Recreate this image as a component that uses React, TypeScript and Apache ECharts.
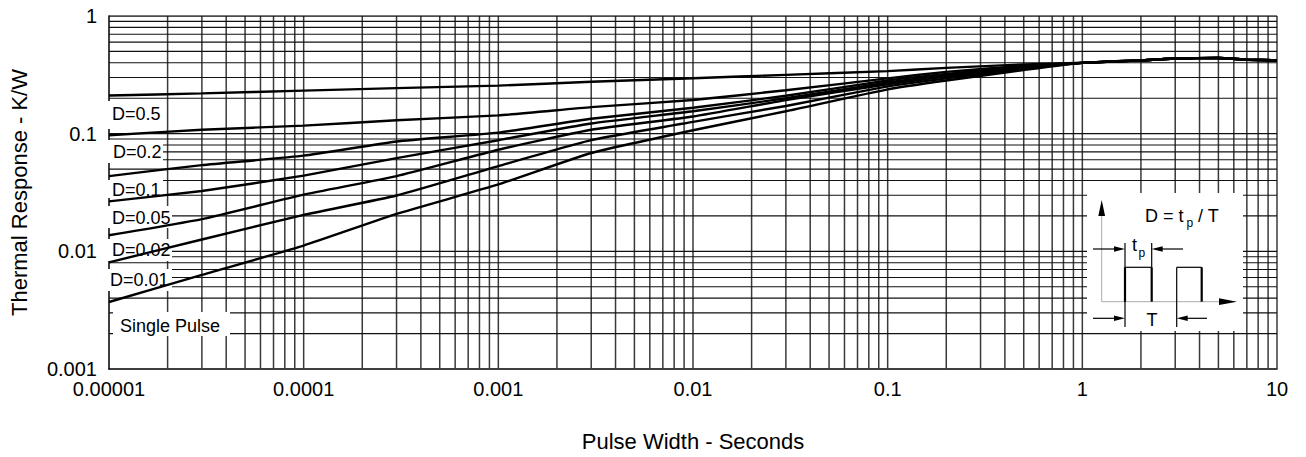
import React, { useEffect, useRef } from "react";
import * as echarts from "echarts";

const pulseWidth = [1e-5, 3e-5, 1e-4, 3e-4, 1e-3, 3e-3, 1e-2, 3e-2, 0.1, 0.2, 0.5, 1, 2, 3, 5, 7, 10];
const d05 = [0.211, 0.22, 0.232, 0.244, 0.256, 0.276, 0.296, 0.316, 0.34, 0.362, 0.388, 0.4, 0.42, 0.435, 0.44, 0.425, 0.42];
const d02 = [0.097, 0.108, 0.117, 0.13, 0.143, 0.168, 0.193, 0.234, 0.295, 0.335, 0.378, 0.4, 0.42, 0.435, 0.44, 0.425, 0.42];
const d01 = [0.0436, 0.054, 0.065, 0.0857, 0.102, 0.134, 0.166, 0.21, 0.283, 0.322, 0.372, 0.4, 0.42, 0.435, 0.44, 0.425, 0.42];
const d005 = [0.0266, 0.0326, 0.044, 0.062, 0.088, 0.122, 0.155, 0.2, 0.272, 0.312, 0.367, 0.4, 0.42, 0.435, 0.44, 0.425, 0.42];
const d002 = [0.0137, 0.0188, 0.0303, 0.0436, 0.073, 0.108, 0.14, 0.193, 0.263, 0.305, 0.362, 0.4, 0.42, 0.435, 0.44, 0.425, 0.42];
const d001 = [0.00807, 0.0126, 0.0204, 0.0298, 0.053, 0.088, 0.126, 0.172, 0.252, 0.295, 0.355, 0.4, 0.42, 0.435, 0.44, 0.425, 0.42];
const single = [0.00371, 0.0063, 0.0112, 0.0208, 0.037, 0.0685, 0.107, 0.155, 0.238, 0.283, 0.347, 0.4, 0.42, 0.435, 0.44, 0.425, 0.42];

const curves = [d05, d02, d01, d005, d002, d001, single];

const xTickLabels = ["0.00001", "0.0001", "0.001", "0.01", "0.1", "1", "10"];
const yTickLabels = ["0.001", "0.01", "0.1", "1"];
const xDecades = [-5, -4, -3, -2, -1, 0];
const yDecades = [-3, -2, -1];
const multipliers = [1, 2, 3, 4, 5, 6, 7, 8, 9];
const X_MIN = 1e-5;
const X_MAX = 10;
const Y_MIN = 0.001;
const Y_MAX = 1;

const curveLabels = [
  { text: "D=0.5", x: 106, y: 101, w: 57, h: 28, tx: 112, ty: 114 },
  { text: "D=0.2", x: 106, y: 140, w: 57, h: 23, tx: 113, ty: 152 },
  { text: "D=0.1", x: 106, y: 180, w: 57, h: 18, tx: 112, ty: 190 },
  { text: "D=0.05", x: 106, y: 206, w: 66, h: 22, tx: 112, ty: 217.5 },
  { text: "D=0.02", x: 106, y: 239, w: 66, h: 22, tx: 112, ty: 250 },
  { text: "D=0.01", x: 106, y: 269, w: 66, h: 22, tx: 110, ty: 280 },
  { text: "Single Pulse", x: 113, y: 312, w: 117, h: 24, tx: 120, ty: 325.5 },
];

const FONT = "'Liberation Sans', Arial, sans-serif";

function isDecade(v: number) {
  const l = Math.log10(v);
  return Math.abs(l - Math.round(l)) < 1e-6;
}

export default function App() {
  const ref = useRef<HTMLDivElement>(null);
  useEffect(() => {
    if (!ref.current) return;
    const chart = echarts.init(ref.current, null, { renderer: "svg" });

    const gridSeries: any[] = [];
    xDecades.forEach((e) =>
      multipliers.forEach((m) => {
        if (e === -5 && m === 1) return;
        const v = m * Math.pow(10, e);
        gridSeries.push({
          type: "line",
          z: 1,
          silent: true,
          symbol: "none",
          lineStyle: { color: "#3a3a3a", width: 1.5 },
          data: [[v, Y_MIN], [v, Y_MAX]],
        });
      })
    );
    gridSeries.push({
      type: "line", z: 1, silent: true, symbol: "none",
      lineStyle: { color: "#3a3a3a", width: 1.5 },
      data: [[X_MAX, Y_MIN], [X_MAX, Y_MAX]],
    });
    yDecades.forEach((e) =>
      multipliers.forEach((m) => {
        if (e === -3 && m === 1) return;
        const v = m * Math.pow(10, e);
        gridSeries.push({
          type: "line",
          z: 1,
          silent: true,
          symbol: "none",
          lineStyle: { color: "#111", width: 1.1 },
          data: [[X_MIN, v], [X_MAX, v]],
        });
      })
    );
    gridSeries.push({
      type: "line", z: 1, silent: true, symbol: "none",
      lineStyle: { color: "#111", width: 1.3 },
      data: [[X_MIN, Y_MAX], [X_MAX, Y_MAX]],
    });

    const labelGraphics: any[] = [];
    curveLabels.forEach((l) => {
      labelGraphics.push({
        type: "rect",
        z: 2,
        shape: { x: l.x, y: l.y, width: l.w, height: l.h },
        style: { fill: "#fff" },
      });
      labelGraphics.push({
        type: "text",
        z: 2,
        x: l.tx,
        y: l.ty,
        style: { text: l.text, fill: "#000", font: `18px ${FONT}`, align: "left", verticalAlign: "middle" },
      });
    });

    const ink = { stroke: "#000", lineWidth: 1.2 };
    const thick = { stroke: "#000", lineWidth: 2.2 };
    const gray = { stroke: "#aaa", lineWidth: 1 };
    const inset: any[] = [
      { type: "rect", z: 2, shape: { x: 1087, y: 193, width: 156, height: 138 }, style: { fill: "#fff" } },
      { type: "line", z: 3, shape: { x1: 1101.7, y1: 214, x2: 1101.7, y2: 301.7 }, style: gray },
      { type: "polygon", z: 3, shape: { points: [[1101.7, 200], [1098.3, 216], [1105.1, 216]] }, style: { fill: "#000" } },
      { type: "line", z: 3, shape: { x1: 1101.7, y1: 301.7, x2: 1222, y2: 301.7 }, style: gray },
      { type: "polygon", z: 3, shape: { points: [[1237, 301.7], [1219, 298.3], [1219, 305.1]] }, style: { fill: "#000" } },
      // pulse 1
      { type: "line", z: 3, shape: { x1: 1125, y1: 243, x2: 1125, y2: 327 }, style: ink },
      { type: "line", z: 3, shape: { x1: 1125, y1: 267.3, x2: 1125, y2: 301.7 }, style: thick },
      { type: "line", z: 3, shape: { x1: 1125, y1: 267.3, x2: 1151.7, y2: 267.3 }, style: ink },
      { type: "line", z: 3, shape: { x1: 1151.7, y1: 243, x2: 1151.7, y2: 267.3 }, style: ink },
      { type: "line", z: 3, shape: { x1: 1151.7, y1: 267.3, x2: 1151.7, y2: 301.7 }, style: thick },
      // pulse 2
      { type: "line", z: 3, shape: { x1: 1176.7, y1: 267.3, x2: 1176.7, y2: 327 }, style: ink },
      { type: "line", z: 3, shape: { x1: 1176.7, y1: 267.3, x2: 1201.7, y2: 267.3 }, style: ink },
      { type: "line", z: 3, shape: { x1: 1201.7, y1: 267.3, x2: 1201.7, y2: 301.7 }, style: thick },
      // tp arrows
      { type: "line", z: 3, shape: { x1: 1093, y1: 249, x2: 1116, y2: 249 }, style: ink },
      { type: "polygon", z: 3, shape: { points: [[1125, 249], [1114, 246.3], [1114, 251.7]] }, style: { fill: "#000" } },
      { type: "line", z: 3, shape: { x1: 1183, y1: 249, x2: 1160, y2: 249 }, style: ink },
      { type: "polygon", z: 3, shape: { points: [[1151.7, 249], [1162.7, 246.3], [1162.7, 251.7]] }, style: { fill: "#000" } },
      // T arrows
      { type: "line", z: 3, shape: { x1: 1093, y1: 318.3, x2: 1116, y2: 318.3 }, style: ink },
      { type: "polygon", z: 3, shape: { points: [[1125, 318.3], [1114, 315.6], [1114, 321]] }, style: { fill: "#000" } },
      { type: "line", z: 3, shape: { x1: 1207, y1: 318.3, x2: 1186, y2: 318.3 }, style: ink },
      { type: "polygon", z: 3, shape: { points: [[1176.7, 318.3], [1187.7, 315.6], [1187.7, 321]] }, style: { fill: "#000" } },
      // texts
      { type: "text", z: 3, x: 1145, y: 216, style: { text: "D = t", fill: "#000", font: `18px ${FONT}`, verticalAlign: "middle" } },
      { type: "text", z: 3, x: 1186.5, y: 222.5, style: { text: "p", fill: "#000", font: `12px ${FONT}`, verticalAlign: "middle" } },
      { type: "text", z: 3, x: 1198, y: 216, style: { text: "/ T", fill: "#000", font: `18px ${FONT}`, verticalAlign: "middle" } },
      { type: "text", z: 3, x: 1132, y: 245, style: { text: "t", fill: "#000", font: `18px ${FONT}`, verticalAlign: "middle" } },
      { type: "text", z: 3, x: 1138.5, y: 253, style: { text: "p", fill: "#000", font: `12px ${FONT}`, verticalAlign: "middle" } },
      { type: "text", z: 3, x: 1152, y: 320, style: { text: "T", fill: "#000", font: `18px ${FONT}`, align: "center", verticalAlign: "middle" } },
    ];

    const option: any = {
      animation: false,
      backgroundColor: "#fff",
      grid: { left: 105, right: 29, top: 16, bottom: 83, containLabel: false },
      xAxis: {
        type: "log",
        logBase: 10,
        min: X_MIN,
        max: X_MAX,
        name: "Pulse Width - Seconds",
        nameLocation: "middle",
        nameGap: 61,
        nameTextStyle: { color: "#000", fontSize: 22, fontFamily: FONT },
        axisLine: { show: true, lineStyle: { color: "#000", width: 1.5 } },
        axisTick: { show: false },
        splitLine: { show: false },
        axisLabel: {
          color: "#000",
          fontSize: 20,
          fontFamily: FONT,
          margin: 10,
          formatter: (v: number) => (isDecade(v) ? xTickLabels[Math.round(Math.log10(v)) + 5] ?? "" : ""),
        },
      },
      yAxis: {
        type: "log",
        logBase: 10,
        min: Y_MIN,
        max: Y_MAX,
        name: "Thermal Response - K/W",
        nameLocation: "middle",
        nameGap: 79,
        nameTextStyle: { color: "#000", fontSize: 22, fontFamily: FONT },
        axisLine: { show: true, lineStyle: { color: "#000", width: 1.5 } },
        axisTick: { show: false },
        splitLine: { show: false },
        axisLabel: {
          color: "#000",
          fontSize: 20,
          fontFamily: FONT,
          margin: 12,
          formatter: (v: number) => (isDecade(v) ? yTickLabels[Math.round(Math.log10(v)) + 3] ?? "" : ""),
        },
      },
      series: [
        ...gridSeries,
        ...curves.map((c) => ({
          type: "line",
          z: 3,
          silent: true,
          showSymbol: false,
          symbol: "none",
          smooth: 0.15,
          lineStyle: { color: "#000", width: 2.4 },
          data: pulseWidth.map((t, i) => [t, c[i]]),
        })),
      ],
      graphic: [...labelGraphics, ...inset],
    };
    chart.setOption(option);
    return () => chart.dispose();
  }, []);
  return <div ref={ref} style={{ position: "fixed", left: 0, top: 0, width: 1306, height: 457 }} />;
}
